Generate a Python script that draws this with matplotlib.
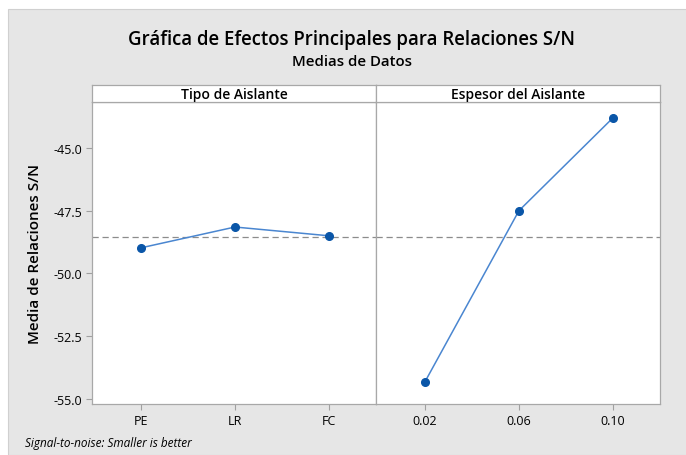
import matplotlib.pyplot as plt
from matplotlib.patches import Rectangle

# Datos (medias de relaciones S/N)
tipo_labels = ["PE", "LR", "FC"]
tipo_values = [-48.98, -48.15, -48.50]
espesor_labels = ["0.02", "0.06", "0.10"]
espesor_values = [-54.32, -47.50, -43.80]
overall_mean = -48.54
y_ticks = [-45.0, -47.5, -50.0, -52.5, -55.0]

W, H = 686, 456
plt.rcParams['font.family'] = ['Open Sans', 'DejaVu Sans']

fig = plt.figure(figsize=(W / 100, H / 100), dpi=100)
fig.patch.set_facecolor("white")
fig.patches.append(Rectangle((8 / W, 0), 1, (H - 10) / H, transform=fig.transFigure,
                             facecolor="#E6E6E6", edgecolor="#D0D0D0", lw=0.8, zorder=-10))


def px_box(x0, y0, x1, y1):
    # pixel box (top-left origin) -> figure fraction
    return [x0 / W, 1 - y1 / H, (x1 - x0) / W, (y1 - y0) / H]


panels = [
    ("Tipo de Aislante", tipo_labels, tipo_values, 92, 376),
    ("Espesor del Aislante", espesor_labels, espesor_values, 376, 660),
]

for i, (name, labels, values, x0, x1) in enumerate(panels):
    ax = fig.add_axes(px_box(x0, 103, x1, 405))
    xs = list(range(len(values)))
    ax.axhline(overall_mean, color="#8C8C8C", lw=0.9, ls=(0, (5, 3)), zorder=1)
    ax.plot(xs, values, color="#4A86D0", lw=1.1, marker="o", markersize=5.5,
            markerfacecolor="#0A56A8", markeredgecolor="#0A56A8", zorder=3)
    ax.set_xlim(-0.52, 2.5)
    ax.set_ylim(-55.2, -43.17)
    ax.set_xticks(xs)
    ax.set_xticklabels(labels, fontsize=9)
    ax.set_yticks(y_ticks)
    if i == 0:
        ax.set_yticklabels([f"{v:.1f}" for v in y_ticks], fontsize=9)
        ax.set_ylabel("Media de Relaciones S/N", fontsize=11, labelpad=8, fontweight="semibold")
    else:
        ax.tick_params(axis="y", left=False, labelleft=False)
    ax.tick_params(axis="both", color="#A0A0A0", length=4, width=0.8, pad=3)
    for sp in ax.spines.values():
        sp.set_color("#A8A8A8")
        sp.set_linewidth(0.9)

    # franja de titulo del panel
    sax = fig.add_axes(px_box(x0, 86, x1, 103))
    sax.set_xticks([])
    sax.set_yticks([])
    sax.set_facecolor("white")
    for sp in sax.spines.values():
        sp.set_color("#A8A8A8")
        sp.set_linewidth(0.9)
    sax.text(0.5, 0.45, name, ha="center", va="center", fontsize=10,
             fontweight="semibold", transform=sax.transAxes)

fig.text(352 / W, 1 - 40 / H, "Gráfica de Efectos Principales para Relaciones S/N",
         ha="center", va="center", fontsize=13.4, fontweight="semibold")
fig.text(352 / W, 1 - 62 / H, "Medias de Datos", ha="center", va="center", fontsize=10.8,
         fontweight="semibold")
fig.text(25 / W, 1 - 444 / H, "Signal-to-noise: Smaller is better", ha="left", va="center",
         fontsize=8.5, style="italic")

fig.savefig("out.png", dpi=100)
